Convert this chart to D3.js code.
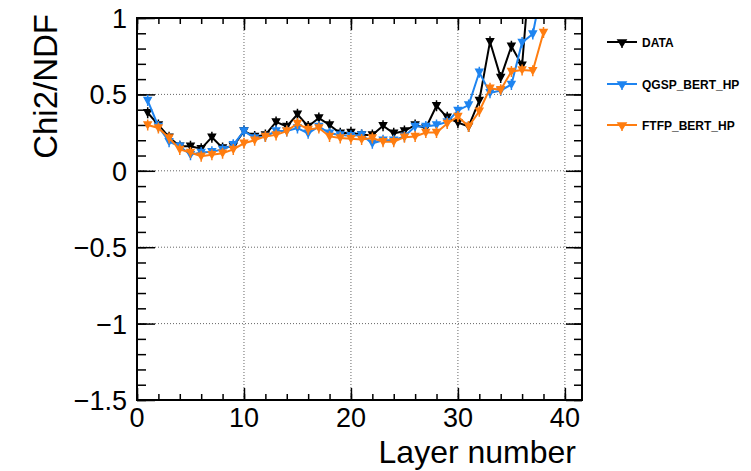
<!DOCTYPE html>
<html>
<head>
<meta charset="utf-8">
<script src="https://cdn.jsdelivr.net/npm/d3@7"></script>
<style>
  body { margin: 0; background: #fff; }
  text { font-family: "Liberation Sans", Arial, Helvetica, sans-serif; }
</style>
</head>
<body>
<div id="chart-area"></div>
<script>
// layer numbers and chi2/ndf values
var layers = d3.range(1, 39);
var dataVals = [0.38, 0.30, 0.22, 0.16, 0.16, 0.145, 0.22, 0.15, 0.16, 0.26,
    0.225, 0.235, 0.32, 0.29, 0.37, 0.29, 0.345, 0.30, 0.245, 0.25,
    0.235, 0.235, 0.295, 0.245, 0.26, 0.30, 0.28, 0.425, 0.35, 0.315,
    0.29, 0.46, 0.845, 0.61, 0.815, 0.69, 1.55];
var qgspVals = [0.46, 0.29, 0.19, 0.16, 0.105, 0.12, 0.125, 0.14, 0.17, 0.26,
    0.215, 0.225, 0.26, 0.26, 0.28, 0.245, 0.29, 0.245, 0.235, 0.23,
    0.235, 0.18, 0.20, 0.20, 0.225, 0.29, 0.29, 0.30, 0.32, 0.395,
    0.43, 0.645, 0.51, 0.525, 0.565, 0.84, 0.895, 1.25];
var ftfpVals = [0.30, 0.28, 0.215, 0.14, 0.12, 0.095, 0.105, 0.115, 0.14, 0.18,
    0.20, 0.225, 0.235, 0.26, 0.31, 0.27, 0.28, 0.225, 0.215, 0.21,
    0.205, 0.215, 0.19, 0.19, 0.22, 0.225, 0.25, 0.25, 0.31, 0.355,
    0.29, 0.39, 0.54, 0.53, 0.65, 0.66, 0.655, 0.905];

var seriesNames = ["DATA", "QGSP_BERT_HP", "FTFP_BERT_HP"];
var seriesColors = ["#000000", "#1e84f0", "#ff7d10"];
var seriesVals = [dataVals, qgspVals, ftfpVals];

var xTicks = [0, 10, 20, 30, 40];
var yTicks = [-1.5, -1, -0.5, 0, 0.5, 1];

var W = 751, H = 471;
var pLeft = 137, pRight = 582, pTop = 18, pBottom = 400;

var svg = d3.select("#chart-area").append("svg")
    .attr("width", W)
    .attr("height", H);

var x = d3.scaleLinear().domain([0, 41.6]).range([pLeft, pRight]);
var y = d3.scaleLinear().domain([-1.5, 1]).range([pBottom, pTop]);

// dotted grid at the major ticks
svg.append("g").selectAll("line")
    .data(xTicks.filter(function(d) { return d > 0; }))
    .enter().append("line")
    .attr("x1", function(d) { return x(d); })
    .attr("x2", function(d) { return x(d); })
    .attr("y1", pTop).attr("y2", pBottom)
    .attr("stroke", "#666").attr("stroke-width", 1)
    .attr("stroke-dasharray", "1,2");
svg.append("g").selectAll("line")
    .data(yTicks.filter(function(d) { return d > -1.5 && d < 1; }))
    .enter().append("line")
    .attr("x1", pLeft).attr("x2", pRight)
    .attr("y1", function(d) { return y(d); })
    .attr("y2", function(d) { return y(d); })
    .attr("stroke", "#666").attr("stroke-width", 1)
    .attr("stroke-dasharray", "1,2");

// axes: ticks pointing inward, on all four sides
var xMinor = d3.range(0, 41, 2);
var yMinor = d3.range(-15, 11).map(function(d) { return d / 10; });

function drawAxis(axis, g) {
    g.call(axis);
    g.select(".domain").remove();
    g.selectAll("line").attr("stroke", "#000").attr("stroke-width", 1.5);
}

drawAxis(d3.axisBottom(x).tickValues(xMinor).tickSize(-6).tickFormat(""),
    svg.append("g").attr("transform", "translate(0," + pBottom + ")"));
drawAxis(d3.axisTop(x).tickValues(xMinor).tickSize(-6).tickFormat(""),
    svg.append("g").attr("transform", "translate(0," + pTop + ")"));
drawAxis(d3.axisBottom(x).tickValues(xTicks).tickSize(-12).tickFormat(""),
    svg.append("g").attr("transform", "translate(0," + pBottom + ")"));
drawAxis(d3.axisTop(x).tickValues(xTicks).tickSize(-12).tickFormat(""),
    svg.append("g").attr("transform", "translate(0," + pTop + ")"));
drawAxis(d3.axisLeft(y).tickValues(yMinor).tickSize(-9).tickFormat(""),
    svg.append("g").attr("transform", "translate(" + pLeft + ",0)"));
drawAxis(d3.axisRight(y).tickValues(yMinor).tickSize(-8).tickFormat(""),
    svg.append("g").attr("transform", "translate(" + pRight + ",0)"));
drawAxis(d3.axisLeft(y).tickValues(yTicks).tickSize(-18).tickFormat(""),
    svg.append("g").attr("transform", "translate(" + pLeft + ",0)"));
drawAxis(d3.axisRight(y).tickValues(yTicks).tickSize(-16).tickFormat(""),
    svg.append("g").attr("transform", "translate(" + pRight + ",0)"));

// tick labels
var fmt = function(d) { return d3.format("")(d).replace("-", "\u2212"); };
svg.append("g").selectAll("text")
    .data(xTicks).enter().append("text")
    .attr("x", function(d) { return x(d); })
    .attr("y", pBottom + 27)
    .attr("text-anchor", "middle")
    .attr("font-size", 27)
    .text(fmt);
svg.append("g").selectAll("text")
    .data(yTicks).enter().append("text")
    .attr("x", pLeft - 10)
    .attr("y", function(d) { return y(d) + 10; })
    .attr("text-anchor", "end")
    .attr("font-size", 27)
    .text(fmt);

// axis titles
svg.append("text")
    .attr("x", 576).attr("y", 463)
    .attr("text-anchor", "end")
    .attr("font-size", 32)
    .text("Layer number");
svg.append("text")
    .attr("transform", "translate(57,14) rotate(-90)")
    .attr("text-anchor", "end")
    .attr("font-size", 33)
    .text("Chi2/NDF");

// plot clip
svg.append("clipPath").attr("id", "plotclip")
    .append("rect")
    .attr("x", pLeft).attr("y", pTop)
    .attr("width", pRight - pLeft).attr("height", pBottom - pTop);

var line = d3.line()
    .x(function(d) { return x(d.layer); })
    .y(function(d) { return y(d.v); });

var markerPath = "M-3.5,-3L3.5,-3L0,3.5Z M0,-5.5V5.5";

var plot = svg.append("g").attr("clip-path", "url(#plotclip)");

seriesVals.forEach(function(vals, s) {
    var pts = vals.map(function(v, i) { return { layer: layers[i], v: v }; });
    var g = plot.append("g");
    g.append("path")
        .datum(pts)
        .attr("d", line)
        .attr("fill", "none")
        .attr("stroke", seriesColors[s])
        .attr("stroke-width", 2);
    g.selectAll("path.mk")
        .data(pts).enter().append("path")
        .attr("class", "mk")
        .attr("transform", function(d) { return "translate(" + x(d.layer) + "," + y(d.v) + ")"; })
        .attr("d", markerPath)
        .attr("fill", seriesColors[s])
        .attr("stroke", seriesColors[s])
        .attr("stroke-width", 1.5);
});

// frame
svg.append("rect")
    .attr("x", pLeft).attr("y", pTop)
    .attr("width", pRight - pLeft).attr("height", pBottom - pTop)
    .attr("fill", "none")
    .attr("stroke", "#000")
    .attr("stroke-width", 2);

// legend
var legendY = [42, 84, 125];
var leg = svg.append("g").selectAll("g")
    .data(seriesNames).enter().append("g")
    .attr("transform", function(d, i) { return "translate(0," + legendY[i] + ")"; });
leg.append("line")
    .attr("x1", 607).attr("x2", 637)
    .attr("y1", 0).attr("y2", 0)
    .attr("stroke", function(d, i) { return seriesColors[i]; })
    .attr("stroke-width", 2);
leg.append("path")
    .attr("transform", "translate(622,1)")
    .attr("d", "M-4,-3L4,-3L0,3.5Z M0,0V5")
    .attr("fill", function(d, i) { return seriesColors[i]; })
    .attr("stroke", function(d, i) { return seriesColors[i]; })
    .attr("stroke-width", 1.5);
leg.append("text")
    .attr("x", 642).attr("y", 4.5)
    .attr("font-size", 12)
    .attr("font-weight", "bold")
    .text(function(d) { return d; });
</script>
</body>
</html>
